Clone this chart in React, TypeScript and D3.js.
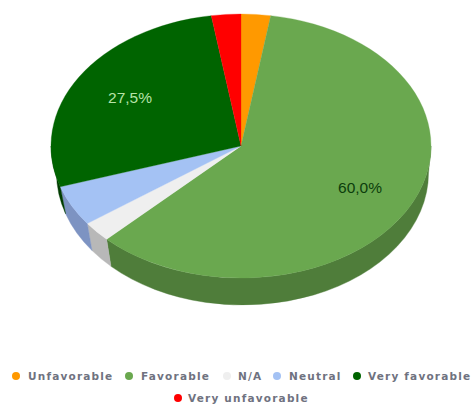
import React from "react";
import * as d3 from "d3";

const categories = ["Unfavorable", "Favorable", "N/A", "Neutral", "Very favorable", "Very unfavorable"];
const shares = [2.5, 60.0, 2.5, 5.0, 27.5, 2.5];
const topColors = ["#ff9900", "#6aa84f", "#efefef", "#a4c2f4", "#006400", "#ff0000"];
const wallColors = ["#b37000", "#4f7d3a", "#b8b8b8", "#7d93c2", "#003c00", "#b30000"];
const valueLabels = [null, "60,0%", null, null, "27,5%", null];
const labelColors = ["", "#0c3d0c", "", "", "#b6e3a8", ""];

const width = 474;
const height = 405;
const cx = 241;
const cy = 146;
const rx = 190;
const ry = 132;
// The lower rim sits further from the viewer, so its ellipse is a little narrower.
const lowerCx = 242.5;
const lowerCy = 173;
const lowerRx = 186;

// Legend entries per row, with horizontal placement of marker and text.
const legendLayout = [
  { i: 0, row: 0, dot: 16, text: 28 },
  { i: 1, row: 0, dot: 129, text: 141 },
  { i: 2, row: 0, dot: 227, text: 238 },
  { i: 3, row: 0, dot: 277, text: 289 },
  { i: 4, row: 0, dot: 357, text: 368 },
  { i: 5, row: 1, dot: 178, text: 188 },
];

const slices = d3.pie<number>().sort(null).value((d) => d)(shares);

// Tilted-disc projection: angle is clockwise from twelve o'clock.
const ptX = (a: number, r = rx, c = cx) => c + r * Math.sin(a);
const ptY = (a: number, c = cy) => c - ry * Math.cos(a);

function topPath(a0: number, a1: number) {
  const large = a1 - a0 > Math.PI ? 1 : 0;
  return `M${cx},${cy}L${ptX(a0)},${ptY(a0)}A${rx},${ry} 0 ${large} 1 ${ptX(a1)},${ptY(a1)}Z`;
}

// Outer wall of a slice, clipped to the front half of the disc.
function wallPath(a0: number, a1: number) {
  const s = Math.max(a0, Math.PI / 2);
  const e = Math.min(a1, (3 * Math.PI) / 2);
  if (e <= s) return null;
  return (
    `M${ptX(s)},${ptY(s)}A${rx},${ry} 0 0 1 ${ptX(e)},${ptY(e)}` +
    `L${ptX(e, lowerRx, lowerCx)},${ptY(e, lowerCy)}A${lowerRx},${ry} 0 0 0 ${ptX(s, lowerRx, lowerCx)},${ptY(s, lowerCy)}Z`
  );
}

export default function App() {
  return (
    <svg
      width={width}
      height={height}
      viewBox={`0 0 ${width} ${height}`}
      style={{ position: "absolute", left: 0, top: 0, background: "#fff" }}
    >
      <g>
        {slices.map((s, i) => {
          const d = wallPath(s.startAngle, s.endAngle);
          return d ? <path key={i} d={d} fill={wallColors[i]} stroke={wallColors[i]} strokeWidth={0.4} /> : null;
        })}
      </g>
      <g>
        {slices.map((s, i) => (
          <path key={i} d={topPath(s.startAngle, s.endAngle)} fill={topColors[i]} stroke={topColors[i]} strokeWidth={0.3} />
        ))}
      </g>
      <text x={360} y={192.5} textAnchor="middle" fontFamily="Liberation Sans, Arial, sans-serif" fontSize={15.5} fill={labelColors[1]}>
        {valueLabels[1]}
      </text>
      <text x={130} y={102.5} textAnchor="middle" fontFamily="Liberation Sans, Arial, sans-serif" fontSize={15.5} fill={labelColors[4]}>
        {valueLabels[4]}
      </text>
      {legendLayout.map((e) => (
        <g key={e.i}>
          <circle cx={e.dot} cy={e.row === 0 ? 376 : 398} r={4} fill={topColors[e.i]} />
          <text
            x={e.text}
            y={e.row === 0 ? 380 : 402}
            fontFamily="DejaVu Sans, Verdana, sans-serif"
            fontWeight="bold"
            fontSize={10.5}
            letterSpacing={1.2}
            fill="#6f7280"
          >
            {categories[e.i]}
          </text>
        </g>
      ))}
    </svg>
  );
}
